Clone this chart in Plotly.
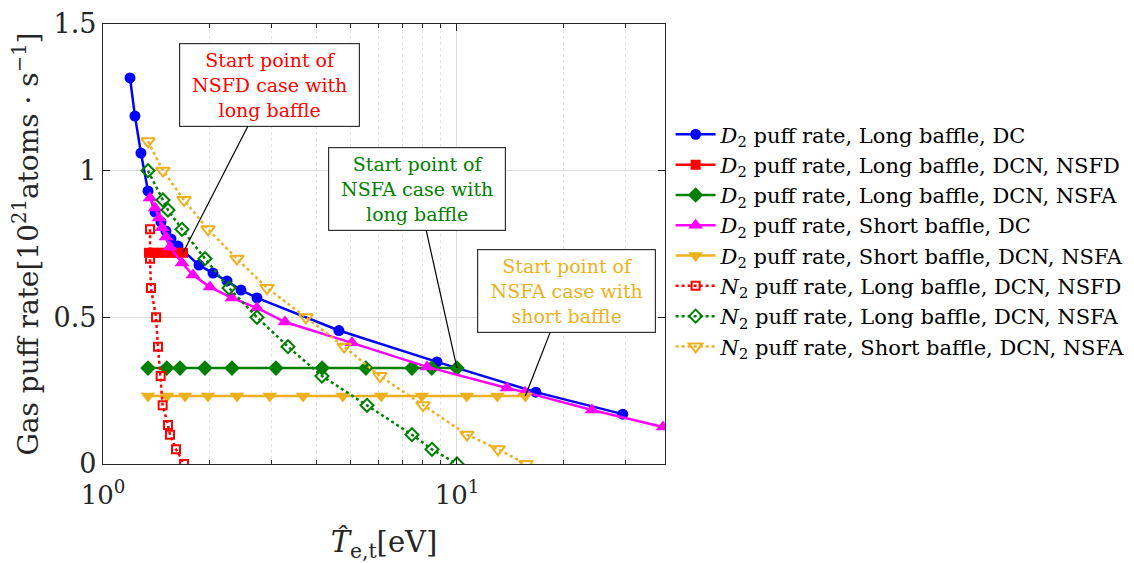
import numpy as np
import plotly.graph_objects as go

# ---------------- data ----------------
blue_x = [1.192, 1.231, 1.280, 1.340, 1.403, 1.458, 1.506, 1.556, 1.629, 1.867, 2.045, 2.240, 2.454, 2.723, 4.64, 8.78, 16.7, 29.4]
blue_y = [1.316, 1.186, 1.060, 0.931, 0.859, 0.825, 0.794, 0.767, 0.743, 0.678, 0.651, 0.624, 0.593, 0.566, 0.455, 0.348, 0.245, 0.170]

red_x = [1.349, 1.393, 1.439, 1.497, 1.556, 1.618, 1.683]
red_y = [0.72, 0.72, 0.72, 0.72, 0.72, 0.72, 0.72]

green_x = [1.340, 1.514, 1.650, 1.941, 2.314, 3.08, 4.16, 5.53, 7.46, 8.49, 10.0]
green_y = [0.327] * 11

mag_x = [1.358, 1.403, 1.439, 1.468, 1.506, 1.546, 1.672, 1.796, 2.005, 2.313, 2.723, 3.267, 5.05, 8.23, 13.84, 15.56, 24.06, 38.2]
mag_y = [0.907, 0.873, 0.839, 0.805, 0.774, 0.740, 0.685, 0.644, 0.603, 0.566, 0.532, 0.484, 0.413, 0.331, 0.259, 0.245, 0.184, 0.126]

yel_x = [1.340, 1.516, 1.705, 1.980, 2.390, 2.961, 3.674, 4.76, 6.11, 7.96, 10.66, 13.0, 15.6]
yel_y = [0.232] * 13

n2_red_x = [1.358, 1.358, 1.366, 1.412, 1.430, 1.455, 1.474, 1.526, 1.546, 1.608, 1.694]
n2_red_y = [0.80, 0.70, 0.60, 0.50, 0.40, 0.30, 0.20, 0.133, 0.10, 0.05, 0.0]

n2_green_x = [1.340, 1.477, 1.526, 1.672, 1.942, 2.270, 2.723, 3.331, 4.155, 5.57, 7.46, 8.50, 10.0]
n2_green_y = [1.00, 0.90, 0.866, 0.80, 0.70, 0.60, 0.50, 0.40, 0.30, 0.20, 0.10, 0.05, 0.0]

n2_yel_x = [1.340, 1.477, 1.694, 1.980, 2.390, 2.906, 3.745, 4.80, 6.06, 8.02, 10.67, 13.06, 15.67]
n2_yel_y = [1.10, 1.00, 0.90, 0.80, 0.70, 0.60, 0.50, 0.40, 0.30, 0.20, 0.10, 0.05, 0.0]

names = [
    "<i>D</i><sub>2</sub> puff rate, Long baffle, DC",
    "<i>D</i><sub>2</sub> puff rate, Long baffle, DCN, NSFD",
    "<i>D</i><sub>2</sub> puff rate, Long baffle, DCN, NSFA",
    "<i>D</i><sub>2</sub> puff rate, Short baffle, DC",
    "<i>D</i><sub>2</sub> puff rate, Short baffle, DCN, NSFA",
    "<i>N</i><sub>2</sub> puff rate, Long baffle, DCN, NSFD",
    "<i>N</i><sub>2</sub> puff rate, Long baffle, DCN, NSFA",
    "<i>N</i><sub>2</sub> puff rate, Short baffle, DCN, NSFA",
]

BLUE = "#0000FF"
RED = "#FF0000"
GREEN = "#008000"
MAG = "#FF00FF"
YEL = "#EDB120"
FONT = "DejaVu Serif"

fig = go.Figure()

def add(x, y, name, color, symbol, size, dash="solid", mlw=0):
    fig.add_trace(go.Scatter(
        x=x, y=y, name=name, mode="lines+markers",
        line=dict(color=color, width=2.5, dash=dash),
        marker=dict(symbol=symbol, size=size, color=color,
                    line=dict(color=color, width=mlw)),
    ))

add(blue_x, blue_y, names[0], BLUE, "circle", 11)
add(red_x, red_y, names[1], RED, "square", 10)
add(green_x, green_y, names[2], GREEN, "diamond", 12)
add(mag_x, mag_y, names[3], MAG, "triangle-up", 13)
add(yel_x, yel_y, names[4], YEL, "triangle-down", 13)
add(n2_red_x, n2_red_y, names[5], RED, "square-open", 8, "dot", 2)
add(n2_green_x, n2_green_y, names[6], GREEN, "diamond-open", 10, "dot", 2)
add(n2_yel_x, n2_yel_y, names[7], YEL, "triangle-down-open", 12, "dot", 2)

ann_common = dict(showarrow=True, arrowhead=0, arrowwidth=1.2, arrowcolor="black",
                  bgcolor="white", bordercolor="#333333", borderwidth=1.2, borderpad=4,
                  xref="x", yref="y", axref="pixel", ayref="pixel")
fig.add_annotation(x=np.log10(red_x[-1]), y=red_y[-1], ax=86, ay=-168,
                   text="Start point of<br>NSFD case with<br>long baffle",
                   font=dict(family=FONT, size=19, color=RED), width=171, height=74, **ann_common)
fig.add_annotation(x=np.log10(green_x[-1]), y=green_y[-1], ax=-40, ay=-179,
                   text="Start point of<br>NSFA case with<br>long baffle",
                   font=dict(family=FONT, size=19, color=GREEN), width=168, height=74, **ann_common)
fig.add_annotation(x=np.log10(yel_x[-1]), y=yel_y[-1], ax=41, ay=-105,
                   text="Start point of<br>NSFA case with<br>short baffle",
                   font=dict(family=FONT, size=19, color=YEL), width=169, height=74, **ann_common)

AX = "#262626"
GRID = "#DCDCDC"
fig.update_xaxes(
    type="log", range=[0, np.log10(38.7)], automargin=False,
    tickvals=[1, 10], ticktext=["10<sup>0</sup>", "10<sup>1</sup>"],
    ticks="inside", ticklen=7, tickcolor=AX, tickwidth=1, ticklabelstandoff=8,
    showline=True, linecolor=AX, linewidth=1.2, mirror="ticks",
    showgrid=True, gridcolor=GRID, gridwidth=1, zeroline=False,
    tickfont=dict(family=FONT, size=26, color=AX),
    title=dict(text="<i>T&#770;</i><sub>e,t</sub>[eV]", font=dict(family=FONT, size=29, color=AX), standoff=22),
    minor=dict(tickvals=[2, 3, 4, 5, 6, 7, 8, 9, 20, 30], ticks="inside", ticklen=4,
               tickcolor=AX, showgrid=True, gridcolor="#E2E2E2", griddash="dot", gridwidth=1),
)
fig.update_yaxes(
    range=[0, 1.5], tickvals=[0, 0.5, 1, 1.5], ticktext=["0", "0.5", "1", "1.5"], automargin=False,
    ticks="inside", ticklen=7, tickcolor=AX,
    showline=True, linecolor=AX, linewidth=1.2, mirror="ticks",
    showgrid=True, gridcolor=GRID, gridwidth=1, zeroline=False,
    tickfont=dict(family=FONT, size=27, color=AX),
    title=dict(text="Gas puff rate[10<sup>21</sup>atoms · s<sup>−1</sup>]",
               font=dict(family=FONT, size=28, color=AX), standoff=6),
)

fig.update_layout(
    width=1126, height=555,
    margin=dict(l=95, r=469, t=16, b=99, autoexpand=False),
    paper_bgcolor="white", plot_bgcolor="white",
    font=dict(family=FONT, color="black"),
    showlegend=True,
    legend=dict(x=1.01, y=0.795, xanchor="left", yanchor="top",
                font=dict(family=FONT, size=21, color="black"),
                itemwidth=40, tracegroupgap=0, bgcolor="rgba(0,0,0,0)"),
)

fig.write_html("out.html")
